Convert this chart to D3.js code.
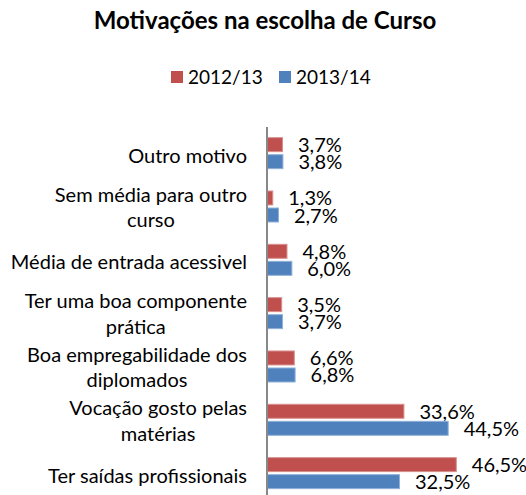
<!DOCTYPE html>
<html><head><meta charset="utf-8">
<script src="https://cdn.jsdelivr.net/npm/d3@7"></script>
<style>body{margin:0;background:#fff}svg{display:block}text{font-family:Lato,"Liberation Sans",sans-serif;fill:#000}</style>
</head><body>
<svg id="c" width="526" height="495"></svg>
<script>
const title = "Motivações na escolha de Curso";
const categories = ["Outro motivo","Sem média para outro\ncurso","Média de entrada acessivel","Ter uma boa componente\nprática","Boa empregabilidade dos\ndiplomados","Vocação gosto pelas\nmatérias","Ter saídas profissionais"];
const seriesNames = ["2012/13","2013/14"];
const values2012 = [3.7,1.3,4.8,3.5,6.6,33.6,46.5];
const values2013 = [3.8,2.7,6.0,3.7,6.8,44.5,32.5];
const colors = ["#C0504D","#4F81BD"];
const strokes = ["#D8908E","#8FB0D8"];

const svg = d3.select("#c");
const fs = 20;
const x = d3.scaleLinear().domain([0,50]).range([267,470]);
const y = d3.scaleBand().domain(categories).range([126.5,499.8]).paddingInner(0.4).paddingOuter(0.2);
const ys = d3.scaleBand().domain(seriesNames).range([0,y.bandwidth()]).paddingInner(0.12);
const fmt = v => d3.format(".1f")(v).replace(".",",")+"%";

svg.append("text").attr("x",265).attr("y",29).attr("text-anchor","middle")
  .style("font-weight","bold").style("font-size","24px").text(title);

// legend
const lg = svg.append("g");
const legX = [171,279];
seriesNames.forEach((s,i)=>{
  lg.append("rect").attr("x",legX[i]).attr("y",71).attr("width",12).attr("height",12).attr("fill",colors[i]);
  lg.append("text").attr("x",legX[i]+17).attr("y",84).style("font-size","19px").text(s);
});

const series = [values2012, values2013];
series.forEach((vals,si)=>{
  const g = svg.append("g");
  g.selectAll("rect").data(categories).join("rect")
    .attr("x",x(0)+0.5).attr("y",(c)=>y(c)+ys(seriesNames[si])+0.5)
    .attr("width",(c,i)=>x(vals[i])-x(0)).attr("height",ys.bandwidth()-1)
    .attr("fill",colors[si]).attr("stroke",strokes[si]).attr("stroke-width",1);
  g.selectAll("text").data(categories).join("text")
    .attr("x",(c,i)=>x(vals[i])+16).attr("y",c=>y(c)+ys(seriesNames[si])+ys.bandwidth()/2+7.5)
    .style("font-size",fs+"px").text((c,i)=>fmt(vals[i]));
});

// axis line
svg.append("line").attr("x1",x(0)).attr("x2",x(0)).attr("y1",127).attr("y2",500)
  .attr("stroke","#888").attr("stroke-width",2);

// category labels
const lh = 25.5;
categories.forEach(c=>{
  const lines = c.split("\n");
  const cy = y(c)+y.bandwidth()/2;
  const t = svg.append("text").style("font-size",fs+"px");
  const off = lines.length===1 ? 9.5 : 8;
  lines.forEach((l,i)=>{
    t.append("tspan").attr("y",cy+(i-(lines.length-1)/2)*lh+off).text(l);
  });
  if(lines.length===1){
    t.attr("text-anchor","end").selectAll("tspan").attr("x",247);
  } else {
    const tmp = svg.append("text").style("font-size",fs+"px").text(lines[0]);
    const w = tmp.node().getComputedTextLength(); tmp.remove();
    t.attr("text-anchor","middle").selectAll("tspan").attr("x",247-w/2);
  }
});
</script>
</body></html>
